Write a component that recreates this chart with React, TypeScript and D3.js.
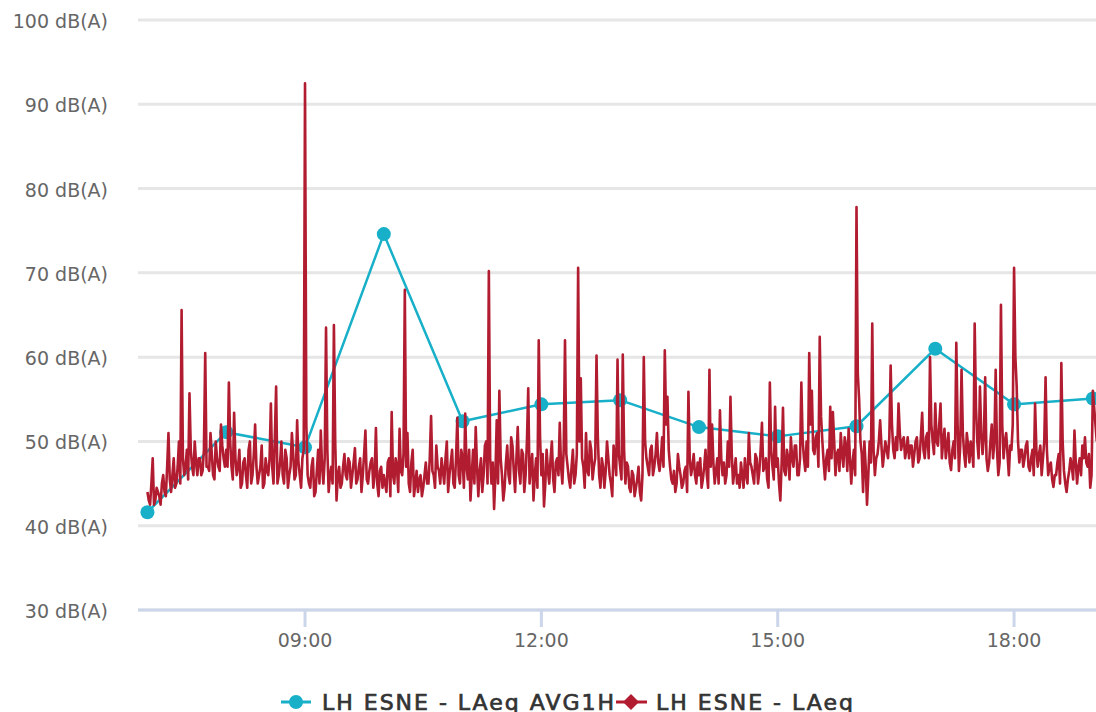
import React from "react";
import * as d3 from "d3";

// Hourly average (LAeq AVG1H)
const avgHours = [7, 8, 9, 10, 11, 12, 13, 14, 15, 16, 17, 18, 19];
const avgValues = [41.6, 51.1, 49.3, 74.6, 52.4, 54.4, 54.9, 51.7, 50.6, 51.8, 61.0, 54.4, 55.1];

// LAeq, one-minute samples. Per hour: even minutes (00,02,...,58) and odd minutes (01,03,...,59)
const laeq07 = [44, 42.5, 48, 43, 44, 42.5, 46, 43.5, 51, 44, 48, 45, 50, 65.6, 46, 49, 55.7, 47, 50, 46, 48, 46.5, 60.5, 47, 51, 46, 50, 47, 52, 48];
const laeq07b = [43, 45, 42.5, 44.5, 43.5, 45, 44, 47, 45.5, 46, 44.5, 47, 45, 48, 47, 45.5, 49, 46, 47.5, 48, 46, 49, 47, 46.5, 48.5, 45.5, 48, 46.5, 49.5, 47];
const laeq08 = [49, 57, 47, 53.4, 46, 49, 45, 48, 44.5, 50, 46, 52, 45, 47, 44.5, 48, 46, 54.5, 45, 56.5, 46, 50, 45, 48, 46, 51, 45.5, 52.5, 46, 48];
const laeq08b = [47, 50, 45.5, 48, 47, 44.5, 47.5, 46, 49, 45, 48.5, 47, 46, 49.5, 45, 46.5, 48, 47, 50.5, 45, 47.5, 46, 49, 44.5, 47, 48.5, 46, 47.5, 44.5, 49];
const laeq09 = [92.5, 46, 44.5, 48, 44, 49, 51.3, 45, 63.5, 44, 47, 63.8, 43, 47, 45, 48.5, 45.5, 47.5, 46, 49.2, 45.5, 48, 46, 51.3, 45, 47.5, 44.5, 51.6, 43.5, 47];
const laeq09b = [52, 45, 47, 43.5, 46.5, 45, 47, 48, 49, 46, 45, 50, 46, 44.5, 47, 46, 48, 44.5, 47.5, 45, 47, 44, 48.5, 45.5, 46.5, 48, 46, 45, 46.5, 44.5];
const laeq10 = [46, 44, 48, 53.5, 45, 47, 51.5, 46, 68, 51, 44, 49, 45, 44, 46, 44.5, 47.5, 45, 53, 46, 49.5, 46.5, 48, 45, 50, 46, 49, 44.5, 52.8, 45];
const laeq10b = [45, 47.5, 43.5, 46, 48, 44, 46.5, 48.5, 47, 45, 47.5, 43.5, 46.5, 45.5, 43.5, 46, 45, 48, 46.5, 44.5, 47, 45, 46.5, 48, 44, 47.5, 45, 48, 46, 49];
const laeq11 = [48, 53.3, 45.5, 43, 49, 51.7, 43.5, 48, 46, 50, 70.2, 45, 42, 52.5, 56, 46, 44.5, 49.5, 45, 49.5, 44, 51.7, 45, 48.5, 46, 56.3, 47, 43, 48, 62];
const laeq11b = [44.5, 47, 49, 46, 45, 47, 46.5, 44, 49.5, 45, 48, 47.5, 46, 45, 48, 43, 47.5, 46, 50.5, 46.5, 48, 46.5, 49, 44, 50, 45, 48.5, 46, 44.5, 50.5];
const laeq12 = [46, 42.3, 49, 45, 50, 44, 48, 52.2, 45, 62, 47, 44.5, 49, 46, 70.6, 57.5, 47, 51, 46, 49, 47, 60.2, 46, 48, 44.5, 50, 46, 43.5, 48, 59.7];
const laeq12b = [48.5, 45, 46.5, 48, 45.5, 47.5, 46, 47, 49, 48.5, 45.5, 47, 45, 48.5, 50, 48, 44.5, 46.5, 50, 45.5, 48, 50.5, 44.5, 47, 46.5, 48, 45, 49.5, 46, 48.5];
const laeq13 = [47, 60.3, 45, 47, 44, 46, 44.5, 47, 43, 60, 48, 46, 49.5, 47, 51, 46.5, 50.5, 60.8, 55.3, 47, 45, 44, 48.5, 46, 45, 47, 55.9, 46, 48.5, 45];
const laeq13b = [45.5, 49, 47.5, 44.5, 46.5, 43.5, 45.5, 44, 46, 50, 47, 49, 46, 48.5, 47.5, 48, 47, 52, 49, 45.5, 46.5, 45, 47, 44.5, 46.5, 44, 48, 47, 46, 47.5];
const laeq14 = [46, 44.5, 47, 46, 58.5, 52, 45, 48, 53.7, 46, 45, 50, 55.3, 45, 48, 46, 47.5, 44.5, 46, 51, 47, 45, 48, 46.5, 52.2, 47, 45.5, 57, 47, 54.1];
const laeq14b = [48, 45.5, 49, 44.5, 47, 47.5, 46.5, 45, 48, 47.5, 46, 47, 48.5, 46.5, 45, 44.5, 46, 48, 45, 47.5, 46, 48.5, 45, 49, 46.5, 48, 44.5, 49, 45.5, 47];
const laeq15 = [48, 43, 54, 46, 48, 50.5, 47, 49.5, 46, 57, 48, 50, 60.5, 56, 48.5, 51, 62.4, 50, 45.5, 49, 54.1, 53.5, 46, 49, 51, 47, 49.5, 51.5, 45, 49];
const laeq15b = [45, 47.5, 46.5, 49, 45.5, 48, 49.5, 46, 48, 50, 46.5, 47, 52, 49, 50.5, 47, 53, 47.5, 48, 46.5, 48, 50, 48.5, 46.5, 48.5, 50.5, 46.5, 48, 47.5, 46];
const laeq16 = [77.8, 55, 48.5, 50, 42.5, 50, 64, 46, 48.5, 52.5, 47, 50, 48, 59, 49, 50.5, 54.5, 49, 50.5, 49, 48, 49.5, 48.5, 50.5, 48, 53.4, 48, 51, 60, 50];
const laeq16b = [58, 50, 44, 47, 46, 47.5, 49, 48, 50, 49.5, 48.5, 49, 50.5, 52, 48, 49, 51, 50, 48, 50.5, 49.5, 47, 50, 47.5, 50.5, 49, 50.5, 48, 52, 48.5];
const laeq17 = [54.5, 49.5, 54.5, 50, 48, 51, 46.6, 50, 61.7, 46.5, 58.5, 48.5, 51, 47.5, 49, 64, 50, 56.5, 48.5, 57.6, 46.5, 50, 48, 58.5, 46, 66.2, 48, 51, 46, 49];
const laeq17b = [50, 52, 48, 51.5, 49.5, 47.5, 49, 48, 52, 49.5, 51, 47, 49.5, 50, 47, 54, 48, 51, 50.5, 48, 47.5, 52, 50, 49, 47.5, 52, 50, 48.5, 49.5, 52];
const laeq18 = [70.6, 56.5, 47.5, 49, 48, 50, 46.5, 49, 54.5, 47, 49.5, 48, 57.6, 46, 47.5, 44.6, 46, 48.5, 59.3, 46.5, 44, 46.5, 47, 51.3, 45, 48, 49.5, 50.5, 47, 44.5];
const laeq18b = [60, 50, 49, 47, 49.5, 47, 48, 46, 49, 48.5, 46, 50, 49, 47, 45.5, 46, 47.5, 45, 50, 45, 45.5, 48, 45.5, 47.5, 47, 46, 48, 47.5, 48.5, 46];
const laeq19 = [56, 52];
const laeq19b = [54, 50];
const laeqHours = [7, 8, 9, 10, 11, 12, 13, 14, 15, 16, 17, 18, 19];
const laeqEven = [laeq07, laeq08, laeq09, laeq10, laeq11, laeq12, laeq13, laeq14, laeq15, laeq16, laeq17, laeq18, laeq19];
const laeqOdd = [laeq07b, laeq08b, laeq09b, laeq10b, laeq11b, laeq12b, laeq13b, laeq14b, laeq15b, laeq16b, laeq17b, laeq18b, laeq19b];

const yTicks = [30, 40, 50, 60, 70, 80, 90, 100];
const seriesNames = ["LH ESNE - LAeq AVG1H", "LH ESNE - LAeq"];

const BLUE = "#17b0c8";
const RED = "#b21c30";
const FONT = "'DejaVu Sans', Verdana, sans-serif";

const t = (h: number, m = 0, s = 0) => new Date(2024, 0, 1, h, m, s);

export default function App() {
  const W = 1096, H = 712;
  const left = 138, right = 1096, top = 20, bottom = 610;

  const x = d3.scaleTime().domain([t(6, 52, 48), t(19, 2, 24)]).range([left, right]);
  const y = d3.scaleLinear().domain([30, 100]).range([bottom, top]);

  const avgData = avgHours.map((h, i) => ({ d: t(h), v: avgValues[i] }));
  const laeqData: { d: Date; v: number }[] = [];
  laeqEven.forEach((arr, hi) => {
    arr.forEach((v, i) => {
      laeqData.push({ d: t(laeqHours[hi], i * 2), v });
      const o = laeqOdd[hi][i];
      if (o !== undefined) laeqData.push({ d: t(laeqHours[hi], i * 2 + 1), v: o });
    });
  });

  const line = d3.line<{ d: Date; v: number }>().x((p) => x(p.d)).y((p) => y(p.v));
  const xTicks = x.ticks(d3.timeHour.every(3) as any);
  const fmt = d3.timeFormat("%H:%M");

  return (
    <svg width={W} height={H} style={{ position: "absolute", left: 0, top: 0, background: "#fff" }}>
      <defs>
        <clipPath id="plot">
          <rect x={left} y={top - 10} width={right - left + 10} height={bottom - top + 10} />
        </clipPath>
      </defs>
      {yTicks.map((v) => (
        <line key={v} x1={left} x2={right} y1={y(v)} y2={y(v)} stroke="#e6e6e6" strokeWidth={3} />
      ))}
      {yTicks.map((v) => (
        <text key={"l" + v} x={108} y={y(v) + 8} textAnchor="end" fontFamily={FONT} fontSize={19} fill="#666">
          {v} dB(A)
        </text>
      ))}
      <line x1={left} x2={right} y1={bottom} y2={bottom} stroke="#ccd6eb" strokeWidth={3} />
      {xTicks.map((d) => (
        <g key={+d}>
          <line x1={x(d)} x2={x(d)} y1={bottom} y2={bottom + 17} stroke="#ccd6eb" strokeWidth={3} />
          <text x={x(d)} y={647} textAnchor="middle" fontFamily={FONT} fontSize={19} fill="#666">
            {fmt(d)}
          </text>
        </g>
      ))}
      <g clipPath="url(#plot)">
        <path d={line(avgData) || ""} fill="none" stroke={BLUE} strokeWidth={2.5} strokeLinejoin="round" />
        {avgData.map((p, i) => (
          <circle key={i} cx={x(p.d)} cy={y(p.v)} r={7} fill={BLUE} />
        ))}
        <path d={line(laeqData) || ""} fill="none" stroke={RED} strokeWidth={2.6} strokeLinejoin="round" />
      </g>
      {/* Legend */}
      <g>
        <line x1={281} x2={311} y1={702} y2={702} stroke={BLUE} strokeWidth={3} />
        <circle cx={296} cy={702} r={7} fill={BLUE} />
        <text x={322} y={710} fontFamily={FONT} fontSize={22} fill="#333" stroke="#333" strokeWidth={0.7}
          textLength={292} lengthAdjust="spacing">
          {seriesNames[0]}
        </text>
        <line x1={616} x2={647} y1={702} y2={702} stroke={RED} strokeWidth={3} />
        <path d="M631,694 L639,702 L631,710 L623,702 Z" fill={RED} />
        <text x={656} y={710} fontFamily={FONT} fontSize={22} fill="#333" stroke="#333" strokeWidth={0.7}
          textLength={197} lengthAdjust="spacing">
          {seriesNames[1]}
        </text>
      </g>
    </svg>
  );
}
